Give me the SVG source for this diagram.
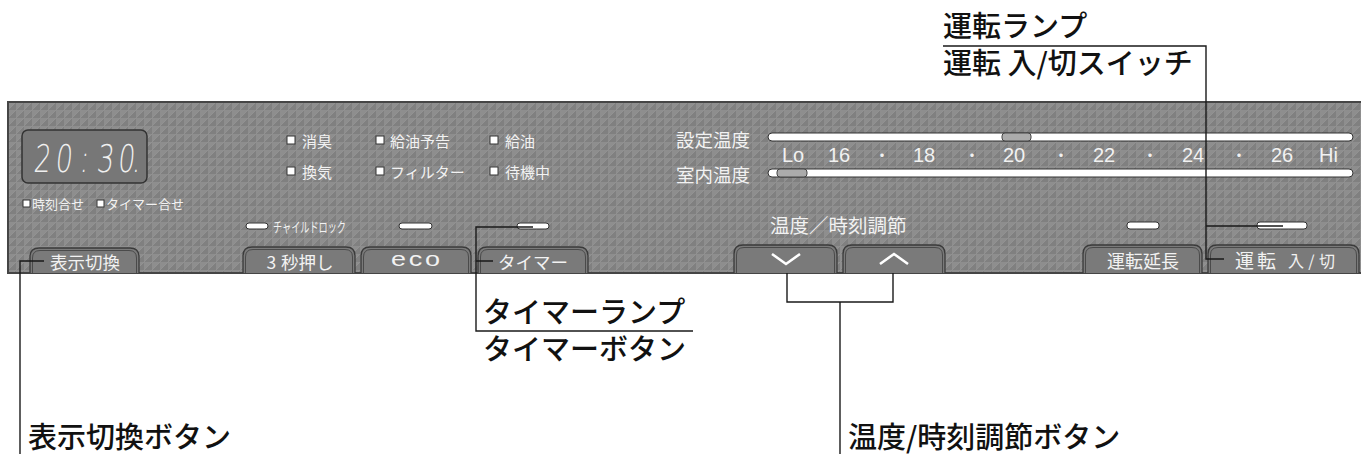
<svg xmlns="http://www.w3.org/2000/svg" width="1361" height="454" viewBox="0 0 1361 454">
<defs>
<pattern id="tex" width="8" height="8" patternUnits="userSpaceOnUse" x="8" y="102">
<rect width="8" height="8" fill="#808080"/>
<path d="M0,0 H8 L0,8 Z" fill="#8e8e8e"/>
<path d="M0,8 L8,0" stroke="#999" stroke-width="0.6"/>
</pattern>
</defs>
<style>
.jp{font-family:"Noto Sans CJK JP","Noto Sans CJK SC",sans-serif}
.ann{font-size:29px;font-weight:500;fill:#111}
.pt{fill:#f2f2f2}
.btn{fill:#7a7a7a;stroke:#3a3a3a;stroke-width:1.3}
.btni{fill:none;stroke:#4a4a4a;stroke-width:1}
.lamp{fill:#fff;stroke:#333;stroke-width:1}
.sq{fill:#fff;stroke:#333;stroke-width:1}
.bar{fill:#fff;stroke:#333;stroke-width:1}
.thumb{fill:#ababab;stroke:#444;stroke-width:1}
.lead{fill:none;stroke:#1a1a1a;stroke-width:1.4}
.chev{fill:none;stroke:#fff;stroke-width:2.6}
.lat{font-family:"Liberation Sans",Arial,sans-serif}
</style>
<rect width="1361" height="454" fill="#fff"/>
<g id="panel">
<rect x="8" y="102" width="1360" height="171" fill="url(#tex)"/>
<path d="M1361,102 H8 V273 H1361" fill="none" stroke="#454545" stroke-width="2"/>
</g>
<g id="clock">
<rect x="22" y="130" width="125" height="53" rx="6" fill="#777" stroke="#333" stroke-width="1.5"/>
<text transform="translate(0,172) scale(0.7,1) skewX(-9)" font-family="DejaVu Sans" font-weight="200" font-size="38" fill="#f0f0f0" x="47 78 113 137 167 188">20:30.</text>
</g>
<g id="indicators" class="jp pt" font-size="15">
<rect class="sq" x="287" y="136" width="8" height="8"/><text x="302" y="147">消臭</text>
<rect class="sq" x="287" y="167" width="8" height="8"/><text x="302" y="178">換気</text>
<rect class="sq" x="376" y="136" width="8" height="8"/><text x="390" y="147">給油予告</text>
<rect class="sq" x="376" y="167" width="8" height="8"/><text x="390" y="178">フィルター</text>
<rect class="sq" x="490" y="136" width="8" height="8"/><text x="505" y="147">給油</text>
<rect class="sq" x="490" y="167" width="8" height="8"/><text x="505" y="178">待機中</text>
</g>
<g id="clock-set" class="jp pt" font-size="13">
<rect class="sq" x="23" y="200" width="7" height="7"/><text x="32" y="209">時刻合せ</text>
<rect class="sq" x="97" y="200" width="7" height="7"/><text x="106" y="209">タイマー合せ</text>
</g>
<g id="temp-scale">
<text class="jp pt" x="676" y="147" font-size="18.5">設定温度</text>
<text class="jp pt" x="676" y="182" font-size="18.5">室内温度</text>
<rect class="bar" x="768" y="133" width="585" height="8" rx="4"/>
<rect class="thumb" x="1002" y="133" width="29" height="8" rx="3"/>
<rect class="bar" x="768" y="169" width="585" height="8" rx="4"/>
<rect class="thumb" x="777" y="169" width="30" height="8" rx="3"/>
<g class="lat pt" font-size="20">
<text x="782" y="162">Lo</text><text x="828" y="162">16</text><text x="913" y="162">18</text>
<text x="1003" y="162">20</text><text x="1093" y="162">22</text><text x="1182" y="162">24</text>
<text x="1271" y="162">26</text><text x="1319" y="162">Hi</text>
</g>
<g class="jp pt" font-size="16" text-anchor="middle">
<text x="882" y="161">・</text><text x="972" y="161">・</text><text x="1061" y="161">・</text>
<text x="1150" y="161">・</text><text x="1239" y="161">・</text>
</g>
<text class="jp pt" x="770" y="233" font-size="19.5">温度／時刻調節</text>
</g>
<g id="lamps">
<rect class="lamp" x="246" y="223" width="22" height="6" rx="3"/>
<text class="jp pt" x="273" y="232" font-size="14" textLength="73" lengthAdjust="spacingAndGlyphs">チャイルドロック</text>
<rect class="lamp" x="399" y="223" width="33" height="6" rx="3"/>
<rect class="lamp" x="517" y="223" width="32" height="6" rx="3"/>
<rect class="lamp" x="1127" y="222" width="32" height="7" rx="3"/>
<rect class="lamp" x="1257" y="222" width="50" height="7" rx="3"/>
</g>
<g id="btn-display">
<path class="btn" d="M30,273 V257 Q30,248 39,248 H130 Q139,248 139,257 V273"/>
<path class="btni" d="M32.5,273 V258 Q32.5,250.5 40,250.5 H129 Q136.5,250.5 136.5,258 V273"/>
<text class="jp pt" x="85" y="269" font-size="17.5" text-anchor="middle">表示切換</text>
</g>
<g id="btn-3sec">
<path class="btn" d="M243,273 V256 Q243,247 252,247 H346 Q355,247 355,256 V273"/>
<path class="btni" d="M245.5,273 V257 Q245.5,249.5 253,249.5 H345 Q352.5,249.5 352.5,257 V273"/>
<text class="jp pt" x="300" y="269" font-size="17.5" text-anchor="middle"><tspan>3</tspan><tspan dx="5">秒押し</tspan></text>
</g>
<g id="btn-eco">
<path class="btn" d="M361,273 V256 Q361,247 370,247 H462 Q471,247 471,256 V273"/>
<path class="btni" d="M363.5,273 V257 Q363.5,249.5 371,249.5 H461 Q468.5,249.5 468.5,257 V273"/>
<text class="lat pt" transform="translate(391,266) scale(1.35,1)" x="0" y="0" font-size="20" letter-spacing="2">eco</text>
</g>
<g id="btn-timer">
<path class="btn" d="M478,273 V256 Q478,247 487,247 H579 Q588,247 588,256 V273"/>
<path class="btni" d="M480.5,273 V257 Q480.5,249.5 488,249.5 H578 Q585.5,249.5 585.5,257 V273"/>
<text class="jp pt" x="533" y="269" font-size="17.5" text-anchor="middle">タイマー</text>
</g>
<g id="btn-down">
<path class="btn" d="M734,273 V254 Q734,245 743,245 H828 Q837,245 837,254 V273"/>
<path class="btni" d="M736.5,273 V255 Q736.5,247.5 744,247.5 H827 Q834.5,247.5 834.5,255 V273"/>
<polyline class="chev" points="772,254 786,264 800,254"/>
</g>
<g id="btn-up">
<path class="btn" d="M843,273 V254 Q843,245 852,245 H936 Q945,245 945,254 V273"/>
<path class="btni" d="M845.5,273 V255 Q845.5,247.5 853,247.5 H935 Q942.5,247.5 942.5,255 V273"/>
<polyline class="chev" points="880,264 894,254 908,264"/>
</g>
<g id="btn-extend">
<path class="btn" d="M1083,273 V254 Q1083,245 1092,245 H1193 Q1202,245 1202,254 V273"/>
<path class="btni" d="M1085.5,273 V255 Q1085.5,247.5 1093,247.5 H1192 Q1199.5,247.5 1199.5,255 V273"/>
<text class="jp pt" x="1143" y="268" font-size="18" text-anchor="middle">運転延長</text>
</g>
<g id="btn-run">
<path class="btn" d="M1208,273 V254 Q1208,245 1217,245 H1350 Q1359,245 1359,254 V273"/>
<path class="btni" d="M1210.5,273 V255 Q1210.5,247.5 1218,247.5 H1349 Q1356.5,247.5 1356.5,255 V273"/>
<text class="jp pt" x="1235" y="268" font-size="19" textLength="41">運転</text>
<text class="jp pt" x="1288" y="267" font-size="16" textLength="47">入/切</text>
</g>
<g id="connectors">
<path class="lead" d="M20,454 V261 H44"/>
<path class="lead" d="M533,227 H476 V331 H693 M476,261 H493"/>
<path class="lead" d="M787,273 V302 H893 V273 M840,302 V454"/>
<path class="lead" d="M943,46 H1206 V259 H1224 M1206,226 H1283"/>
</g>
<g id="annotations" class="jp ann">
<text x="943" y="37">運転ランプ</text>
<text x="943" y="74">運転 入/切スイッチ</text>
<text x="483" y="323">タイマーランプ</text>
<text x="483" y="360">タイマーボタン</text>
<text x="28" y="448">表示切換ボタン</text>
<text x="848" y="448">温度/時刻調節ボタン</text>
</g>
</svg>
